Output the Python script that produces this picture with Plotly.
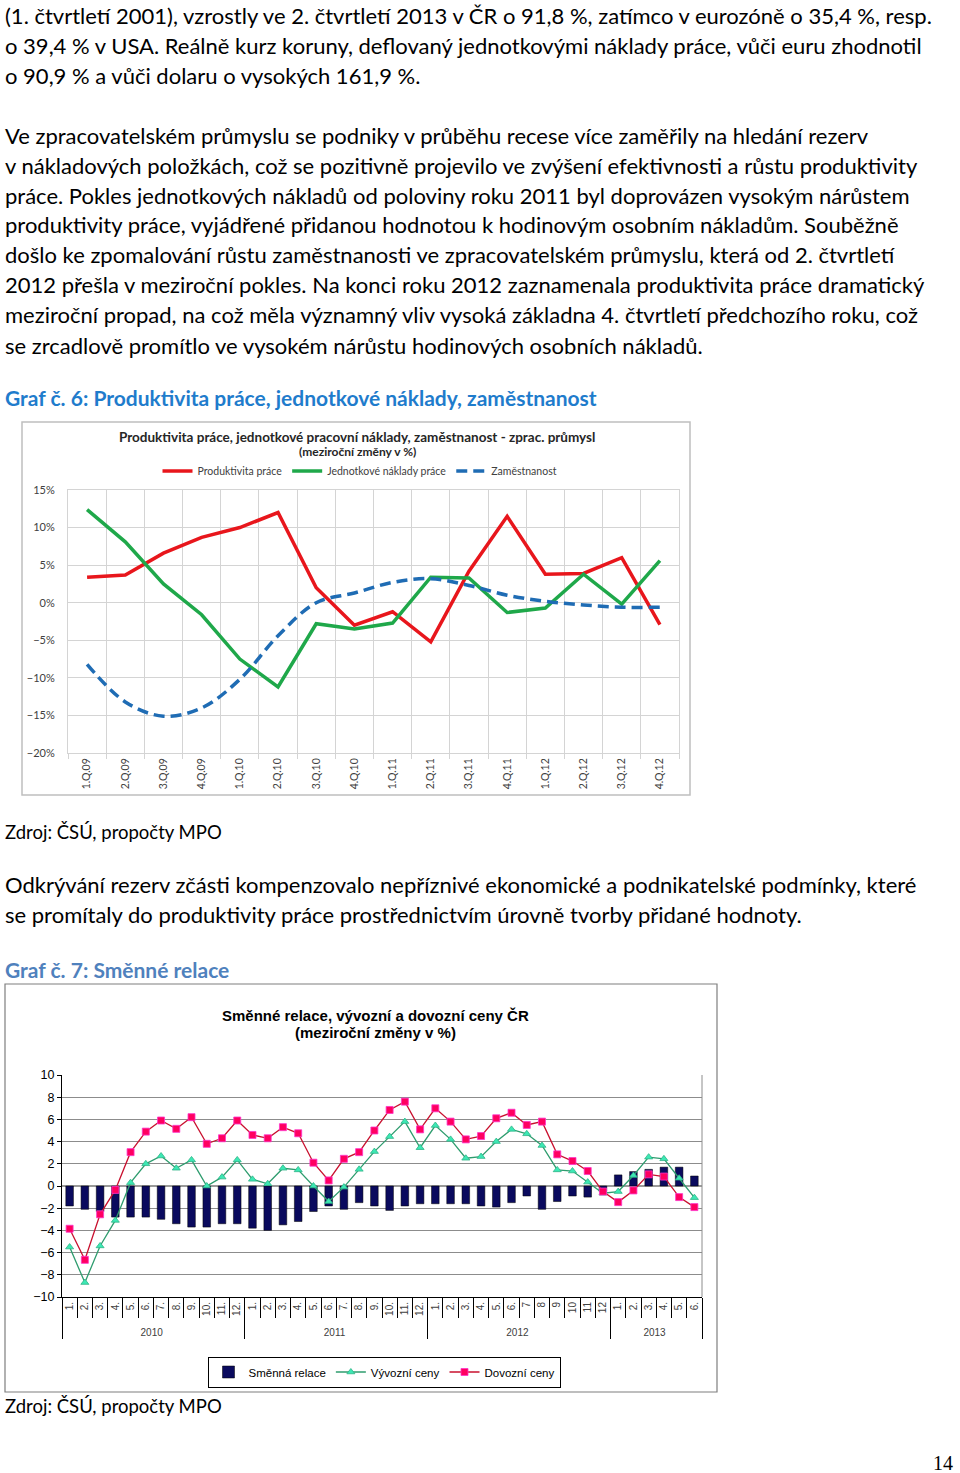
import plotly.graph_objects as go

W, H = 960, 1473


def px(x):
    return x / W


def py(y):
    return 1 - y / H


# Graf 6 - ctvrtletni data (mezirocni zmeny v %)
ctvrtleti = ["1.Q.09", "2.Q.09", "3.Q.09", "4.Q.09", "1.Q.10", "2.Q.10", "3.Q.10", "4.Q.10",
             "1.Q.11", "2.Q.11", "3.Q.11", "4.Q.11", "1.Q.12", "2.Q.12", "3.Q.12", "4.Q.12"]
produktivita = [3.4, 3.7, 6.6, 8.7, 10.0, 12.0, 2.0, -3.0, -1.2, -5.2, 4.2, 11.5, 3.8, 3.9, 6.0, -2.9]
jednotkove_naklady = [12.4, 8.1, 2.5, -1.6, -7.5, -11.2, -2.8, -3.5, -2.7, 3.4, 3.3, -1.3, -0.7, 3.8, -0.2, 5.6]
zamestnanost = [-8.2, -13.2, -15.1, -14.0, -10.2, -4.4, 0.0, 1.3, 2.7, 3.2, 2.3, 1.0, 0.2, -0.3, -0.6, -0.6]

# Graf 7 - mesicni data
roky = ["2010"] * 12 + ["2011"] * 12 + ["2012"] * 12 + ["2013"] * 6
mesice = ["1.", "2.", "3.", "4.", "5.", "6.", "7.", "8.", "9.", "10.", "11.", "12.",
          "1.", "2.", "3.", "4.", "5.", "6.", "7.", "8.", "9.", "10.", "11.", "12.",
          "1.", "2.", "3.", "4.", "5.", "6.", "7", "8", "9", "10", "11", "12",
          "1.", "2.", "3.", "4.", "5.", "6."]
smenna_relace = [-1.8, -2.1, -2.3, -2.8, -2.8, -2.8, -3.0, -3.4, -3.7, -3.7, -3.4, -3.4,
                 -3.8, -4.0, -3.5, -3.2, -2.3, -1.8, -2.1, -1.5, -1.8, -2.2, -1.8, -1.6,
                 -1.6, -1.6, -1.6, -1.8, -1.9, -1.5, -0.9, -2.1, -1.4, -0.9, -1.0, -0.5,
                 1.0, 1.3, 1.5, 1.7, 1.7, 0.9]
vyvozni_ceny = [-5.5, -8.7, -5.4, -3.1, 0.3, 2.0, 2.7, 1.6, 2.35, 0.0, 0.8, 2.35,
                0.6, 0.2, 1.6, 1.45, 0.0, -1.4, -0.1, 1.5, 3.1, 4.45, 5.8, 3.45,
                5.45, 4.2, 2.5, 2.65, 4.0, 5.1, 4.7, 3.65, 1.45, 1.35, 0.35, -0.65,
                -0.5, 0.95, 2.6, 2.45, 0.7, -1.05]
dovozni_ceny = [-3.85, -6.65, -2.55, -0.35, 3.05, 4.9, 5.9, 5.15, 6.2, 3.8, 4.3, 5.9,
                4.6, 4.3, 5.3, 4.75, 2.1, 0.5, 2.45, 3.05, 5.0, 6.85, 7.6, 5.1,
                7.0, 5.8, 4.2, 4.5, 6.1, 6.6, 5.5, 5.8, 2.85, 2.25, 1.35, -0.5,
                -1.45, -0.4, 1.05, 0.85, -1.0, -1.9]

# text stranky: (y stredu radku, text)
odstavce = [
    (15, "(1. čtvrtletí 2001), vzrostly ve 2. čtvrtletí 2013 v ČR o 91,8 %, zatímco v eurozóně o 35,4 %, resp."),
    (45, "o 39,4 % v USA. Reálně kurz koruny, deflovaný jednotkovými náklady práce, vůči euru zhodnotil"),
    (75, "o 90,9 % a vůči dolaru o vysokých 161,9 %."),
    (135, "Ve zpracovatelském průmyslu se podniky v průběhu recese více zaměřily na hledání rezerv"),
    (165, "v nákladových položkách, což se pozitivně projevilo ve zvýšení efektivnosti a růstu produktivity"),
    (195, "práce. Pokles jednotkových nákladů od poloviny roku 2011 byl doprovázen vysokým nárůstem"),
    (225, "produktivity práce, vyjádřené přidanou hodnotou k hodinovým osobním nákladům. Souběžně"),
    (255, "došlo ke zpomalování růstu zaměstnanosti ve zpracovatelském průmyslu, která od 2. čtvrtletí"),
    (285, "2012 přešla v meziroční pokles. Na konci roku 2012 zaznamenala produktivita práce dramatický"),
    (315, "meziroční propad, na což měla významný vliv vysoká základna 4. čtvrtletí předchozího roku, což"),
    (345, "se zrcadlově promítlo ve vysokém nárůstu hodinových osobních nákladů."),
    (884, "Odkrývání rezerv zčásti kompenzovalo nepříznivé ekonomické a podnikatelské podmínky, které"),
    (914, "se promítaly do produktivity práce prostřednictvím úrovně tvorby přidané hodnoty."),
]

fig = go.Figure()

# --- Graf 6 ---
fig.add_trace(go.Scatter(x=ctvrtleti, y=produktivita, name="Produktivita práce", mode="lines",
                         line=dict(color="#e8161c", width=3.5), xaxis="x", yaxis="y", legend="legend"))
fig.add_trace(go.Scatter(x=ctvrtleti, y=jednotkove_naklady, name="Jednotkové náklady práce", mode="lines",
                         line=dict(color="#1fa84a", width=3.5), xaxis="x", yaxis="y", legend="legend"))
fig.add_trace(go.Scatter(x=ctvrtleti, y=zamestnanost, name="Zaměstnanost", mode="lines",
                         line=dict(color="#1f6cb4", width=3.5, dash="11px,6px", shape="spline"),
                         xaxis="x", yaxis="y", legend="legend"))

# --- Graf 7 ---
fig.add_trace(go.Bar(x=[roky, mesice], y=smenna_relace, name="Směnná relace",
                     marker=dict(color="#0a0a5e", line=dict(color="#000000", width=0.5)),
                     xaxis="x2", yaxis="y2", legend="legend2"))
fig.add_trace(go.Scatter(x=[roky, mesice], y=vyvozni_ceny, name="Vývozní ceny", mode="lines+markers",
                         line=dict(color="#2e9c6e", width=1.3),
                         marker=dict(symbol="triangle-up", size=7, color="#3ce8b4",
                                     line=dict(color="#2eb486", width=0.8)),
                         xaxis="x2", yaxis="y2", legend="legend2"))
fig.add_trace(go.Scatter(x=[roky, mesice], y=dovozni_ceny, name="Dovozní ceny", mode="lines+markers",
                         line=dict(color="#c8102e", width=1.3),
                         marker=dict(symbol="square", size=7, color="#ff0060",
                                     line=dict(color="#ff33cc", width=0.8)),
                         xaxis="x2", yaxis="y2", legend="legend2"))

grid1 = "#d4d4d4"
fig.update_layout(
    width=W, height=H,
    margin=dict(l=0, r=0, t=0, b=0, pad=0, autoexpand=False),
    paper_bgcolor="white", plot_bgcolor="white",
    hovermode=False,
    bargap=0.5,
    xaxis=dict(domain=[px(68), px(679)], anchor="y", type="category", tickson="boundaries",
               range=[-0.5, 15.5], automargin=False,
               showgrid=True, gridcolor=grid1, ticks="outside", ticklen=5, tickcolor=grid1,
               tickangle=-90, tickfont=dict(family="Lato", size=10.5, color="#404040"),
               showline=True, linecolor=grid1, mirror=True, fixedrange=True),
    yaxis=dict(domain=[py(753), py(490)], anchor="x", range=[-20, 15], dtick=5, ticksuffix="%",
               automargin=False,
               showgrid=True, gridcolor=grid1, zeroline=False, showline=True, linecolor=grid1,
               mirror=True, ticks="", ticklabelstandoff=10,
               tickfont=dict(family="Lato", size=11, color="#404040")),
    xaxis2=dict(domain=[px(62), px(702)], anchor="y2", type="multicategory", tickson="boundaries",
                range=[-0.5, 41.5], automargin=False,
                showgrid=False, ticks="outside", ticklen=20, tickcolor="#000000",
                tickangle=-90, tickfont=dict(family="Liberation Sans", size=10, color="#404040"),
                showdividers=True, dividercolor="#000000", dividerwidth=1,
                showline=True, linecolor="#000000"),
    yaxis2=dict(domain=[py(1297), py(1075)], anchor="x2", range=[-10, 10], dtick=2,
                automargin=False,
                showgrid=True, gridcolor="#8c8c8c", zeroline=True, zerolinecolor="#9a9a9a",
                showline=True, linecolor="#000000", ticks="outside", ticklen=4, tickcolor="#000000",
                tickfont=dict(family="Liberation Sans", size=12.5, color="#000000")),
    legend=dict(orientation="h", x=px(360), y=py(471), xanchor="center", yanchor="middle",
                font=dict(family="Lato", size=10.5, color="#404040"), bgcolor="rgba(0,0,0,0)",
                itemwidth=30),
    legend2=dict(orientation="h", x=px(384), y=py(1372), xanchor="center", yanchor="middle",
                 font=dict(family="Liberation Sans", size=11.5, color="#000000"),
                 bgcolor="white", bordercolor="#000000", borderwidth=1, itemwidth=30),
)

# ramecky grafu
fig.add_shape(type="rect", xref="paper", yref="paper", x0=px(22), x1=px(690), y0=py(795), y1=py(422),
              line=dict(color="#bfbfbf", width=1.5), layer="below")
fig.add_shape(type="rect", xref="paper", yref="paper", x0=px(5), x1=px(717), y0=py(1392), y1=py(984),
              line=dict(color="#7f7f7f", width=1.2), layer="below")
fig.add_shape(type="line", xref="paper", yref="paper", x0=px(702), x1=px(702), y0=py(1297), y1=py(1075),
              line=dict(color="#8c8c8c", width=1))

body = dict(family="Lato", size=22, color="#000000")
for y, t in odstavce:
    fig.add_annotation(x=px(3), y=py(y), xref="paper", yref="paper", text=t, showarrow=False,
                       xanchor="left", yanchor="middle", font=body)

fig.add_annotation(x=px(3), y=py(397), xref="paper", yref="paper",
                   text="<b>Graf č. 6: Produktivita práce, jednotkové náklady, zaměstnanost</b>",
                   showarrow=False, xanchor="left", yanchor="middle",
                   font=dict(family="Lato", size=21, color="#1f7ccc"))
fig.add_annotation(x=px(3), y=py(970), xref="paper", yref="paper",
                   text="<b>Graf č. 7: Směnné relace</b>",
                   showarrow=False, xanchor="left", yanchor="middle",
                   font=dict(family="Lato", size=21, color="#4f81bd"))
for y in (832, 1406):
    fig.add_annotation(x=px(3), y=py(y), xref="paper", yref="paper", text="Zdroj: ČSÚ, propočty MPO",
                       showarrow=False, xanchor="left", yanchor="middle",
                       font=dict(family="Lato", size=18.5, color="#000000"))

# nadpisy grafu
fig.add_annotation(x=px(357), y=py(437), xref="paper", yref="paper",
                   text="<b>Produktivita práce, jednotkové pracovní náklady, zaměstnanost - zprac. průmysl</b>",
                   showarrow=False, yanchor="middle", font=dict(family="Lato", size=13.5, color="#262626"))
fig.add_annotation(x=px(357), y=py(451), xref="paper", yref="paper",
                   text="<b>(meziroční změny v %)</b>",
                   showarrow=False, yanchor="middle", font=dict(family="Lato", size=12, color="#262626"))
fig.add_annotation(x=px(375), y=py(1015), xref="paper", yref="paper",
                   text="<b>Směnné relace, vývozní a dovozní ceny ČR</b>",
                   showarrow=False, yanchor="middle",
                   font=dict(family="Liberation Sans", size=15, color="#000000"))
fig.add_annotation(x=px(375), y=py(1032), xref="paper", yref="paper",
                   text="<b>(meziroční změny v %)</b>",
                   showarrow=False, yanchor="middle",
                   font=dict(family="Liberation Sans", size=15, color="#000000"))

fig.add_annotation(x=px(955), y=py(1463), xref="paper", yref="paper", text="14", showarrow=False,
                   xanchor="right", yanchor="middle",
                   font=dict(family="Liberation Serif", size=20, color="#000000"))

# okraj stranky 0, aby figura 960x1473 presne vyplnila okno; bez modebaru
fig.write_html("out.html", config={"displayModeBar": False},
               post_script="document.body.style.margin='0';")
